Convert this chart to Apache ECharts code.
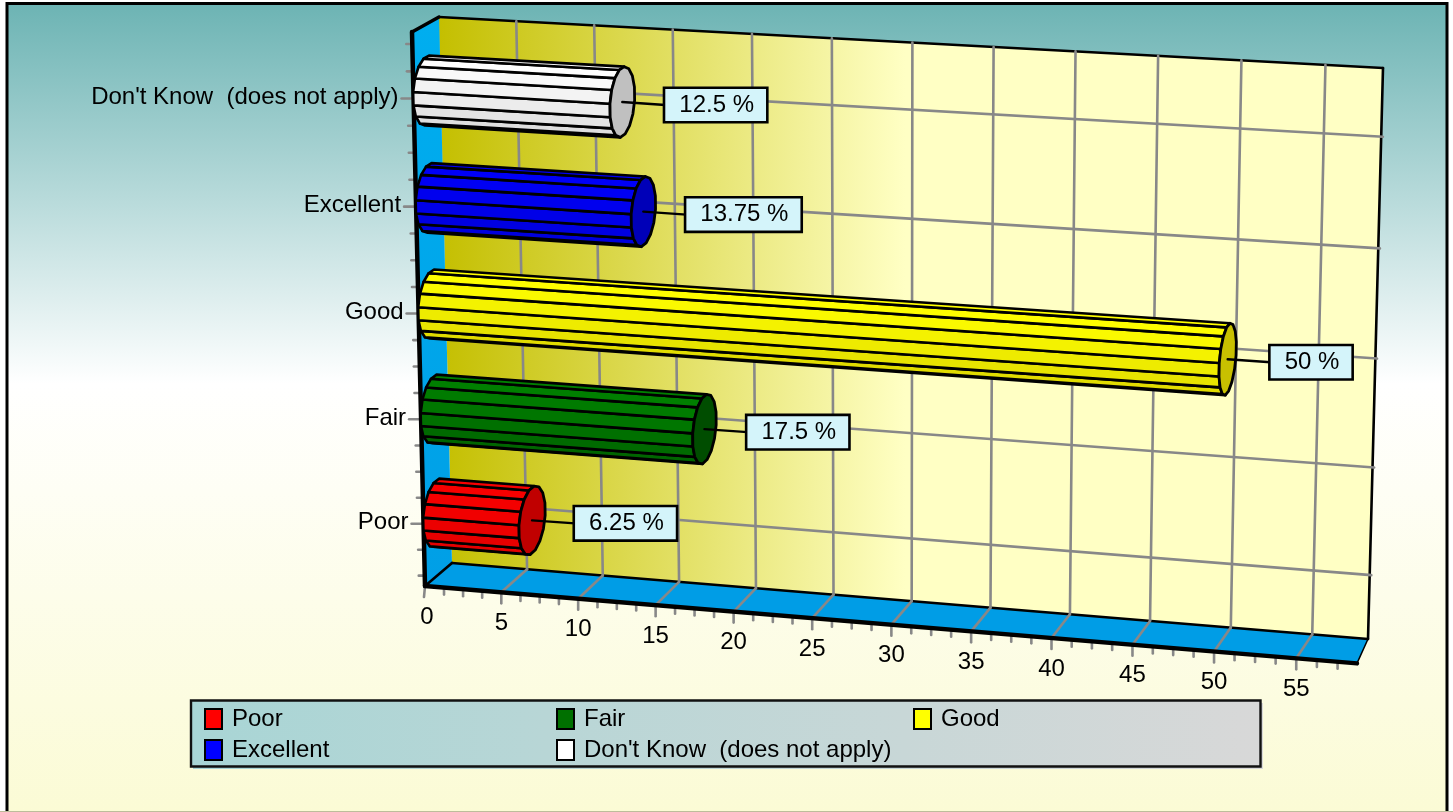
<!DOCTYPE html>
<html><head><meta charset="utf-8"><style>html,body{margin:0;padding:0;background:#fff}#c{width:1453px;height:812px}</style>
<script src="https://cdn.jsdelivr.net/npm/echarts@6/dist/echarts.min.js"></script></head>
<body><div id="c"></div>
<script>
const categories = ['Poor', 'Fair', 'Good', 'Excellent', "Don't Know  (does not apply)"];
const percentValues = [6.25, 17.5, 50, 13.75, 12.5];
const valueTicks = [0, 5, 10, 15, 20, 25, 30, 35, 40, 45, 50, 55];
const barColors = ['#F80000', '#008000', '#FFFF00', '#0000F8', '#FFFFFF'];
const barBottomColors = ['#E00000', '#006000', '#DCD600', '#0000D8', '#D8D8D8'];
const capColors = ['#C00000', '#004D00', '#C8C000', '#0000B8', '#C0C0C0'];
const legendColors = ['#FF0000', '#007000', '#FFFF00', '#0000FF', '#FFFFFF'];

const XMAX = 58.4, FRONT_END = 58.67, YMIN = 0.4, YMAX = 5.61;
const FONT = '"Liberation Sans", Arial, sans-serif';
const FS = 24;
const W = 1453, H = 812;
const backQuad = [[439, 17], [1383, 68], [1368, 639], [452, 563]];
const frontQuad = [[412, 32], [1367.5, 86], [1352.5, 663], [425, 586]];

function homography(p) {
  const [x0, y0] = p[0], [x1, y1] = p[1], [x2, y2] = p[2], [x3, y3] = p[3];
  const dx1 = x1 - x2, dx2 = x3 - x2, sx = x0 - x1 + x2 - x3;
  const dy1 = y1 - y2, dy2 = y3 - y2, sy = y0 - y1 + y2 - y3;
  const den = dx1 * dy2 - dx2 * dy1;
  const g = (sx * dy2 - dx2 * sy) / den, h = (dx1 * sy - sx * dy1) / den;
  const a = x1 - x0 + g * x1, b = x3 - x0 + h * x3, d = y1 - y0 + g * y1, e = y3 - y0 + h * y3;
  return (u, v) => { const q = g * u + h * v + 1; return [(a * u + b * v + x0) / q, (d * u + e * v + y0) / q]; };
}
const backH = homography(backQuad), frontH = homography(frontQuad);
// depth: 0 = front plane, 1 = back wall
function P(api, value, pos, depth) {
  const c = api.coord([value, pos]);
  const u = c[0] / W, v = c[1] / H;
  const f = frontH(u, v), b = backH(u, v);
  return [f[0] + (b[0] - f[0]) * depth, f[1] + (b[1] - f[1]) * depth];
}
const line = (a, b, stroke, lineWidth) => ({ type: 'line', shape: { x1: a[0], y1: a[1], x2: b[0], y2: b[1] }, style: { stroke, lineWidth, lineCap: 'round' } });
const poly = (points, fill, stroke, lineWidth) => ({ type: 'polygon', shape: { points }, style: { fill, stroke, lineWidth, lineJoin: 'round' } });
const label = (text, x, y, align) => ({ type: 'text', style: { text, x, y, align, verticalAlign: 'middle', fontSize: FS, fontFamily: FONT, fill: '#000' } });

function renderFrame(params, api) {
  const ch = [];
  const GRID = '#888888', GW = 2.6;
  const wb = [P(api, 0, YMAX, 1), P(api, XMAX, YMAX, 1), P(api, XMAX, YMIN, 1), P(api, 0, YMIN, 1)];
  const wf = [P(api, 0, YMAX, 0), P(api, XMAX, YMAX, 0), P(api, FRONT_END, YMIN, 0), P(api, 0, YMIN, 0)];
  const wallFill = new echarts.graphic.LinearGradient(wb[0][0], 0, 905, 0, [
    { offset: 0, color: '#C4BF00' }, { offset: 1, color: '#FFFFC4' }], true);
  ch.push(poly(wb, wallFill, null, 0));
  const sideFill = new echarts.graphic.LinearGradient(0, wb[0][1], 0, wf[3][1], [{ offset: 0, color: '#00AEEF' }, { offset: 1, color: '#009FE6' }], true);
  ch.push(poly([wf[0], wb[0], wb[3], wf[3]], sideFill, null, 0));
  ch.push(poly([wf[3], wb[3], wb[2], wf[2]], '#009DE6', null, 0));
  // frame edges of the wall, under the grid
  ch.push(line(wb[0], wb[1], '#000', 2.6));
  ch.push(line(wb[1], wb[2], '#000', 2.6));
  ch.push(line(wb[3], wb[2], '#000', 2.6));
  ch.push(line(wf[3], wb[3], '#000', 2.6));
  ch.push(line(wb[2], wf[2], '#000', 1.5));
  // horizontal grid on the wall
  categories.forEach((c, i) => ch.push(line(P(api, 0, i + 1, 1), P(api, XMAX + 0.1, i + 1, 1), GRID, GW)));
  // value grid, minor and major ticks
  valueTicks.forEach(t => {
    const top = P(api, t, YMAX, 1), bot = P(api, t, YMIN, 1), fr = P(api, t, YMIN, 0);
    if (t > 0) { ch.push(line(top, bot, GRID, GW)); ch.push(line(bot, fr, GRID, GW)); }
    ch.push(line(fr, [fr[0] - (t === 0 ? 1 : 0), fr[1] + 11], GRID, GW));
    ch.push(label(String(t), fr[0] + (t === 0 ? 2 : 0), fr[1] + 31, 'center'));
  });
  for (let t = 0; t < FRONT_END; t += 1.25) {
    if (t % 5 === 0) continue;
    const fr = P(api, t, YMIN, 0);
    ch.push(line(fr, [fr[0], fr[1] + 7], GRID, GW));
  }
  for (let p = 0.5; p <= 5.5; p += 0.25) {
    const a = P(api, 0, p, 0);
    const major = p % 1 === 0;
    ch.push(line([a[0] - (major ? 12 : 6), a[1]], a, GRID, GW));
  }
  categories.forEach((c, i) => {
    const a = P(api, 0, i + 1, 0);
    ch.push(label(c, a[0] - 15, a[1] - 1, 'right'));
  });
  ch.push(line(wf[0], wb[0], '#000', 3.5));
  ch.push(line(wf[0], wf[3], '#000', 4.5));
  ch.push(line(wf[3], wf[2], '#000', 4.5));
  return { type: 'group', children: ch };
}

const hexMix = (a, b, t) => {
  const p = s => [1, 3, 5].map(i => parseInt(s.substr(i, 2), 16));
  const A = p(a), B = p(b);
  return 'rgb(' + A.map((x, i) => Math.round(x + (B[i] - x) * t)).join(',') + ')';
};
const RV = 0.315, RW = 0.52, SIDES = 16, W0 = 0.5;
function renderBar(idx) {
  return function (params, api) {
    const val = api.value(0), pos = api.value(1);
    const ring = x => { const r = []; for (let i = 0; i < SIDES; i++) { const a = (i + 0.5) * 2 * Math.PI / SIDES - Math.PI; r.push([P(api, x, pos + RV * Math.cos(a), W0 + RW * Math.sin(a)), a]); } return r; };
    const r0 = ring(0), r1 = ring(val), ch = [];
    for (let i = 0; i < SIDES; i++) {
      const j = (i + 1) % SIDES;
      const q = [r0[i][0], r1[i][0], r1[j][0], r0[j][0]];
      let area = 0;
      q.forEach((pt, k) => { const n = q[(k + 1) % 4]; area += pt[0] * n[1] - n[0] * pt[1]; });
      if (area >= 0) continue;
      const mid = r0[i][1] + Math.PI / SIDES;
      ch.push(poly(q, hexMix(barColors[idx], barBottomColors[idx], (1 - Math.cos(mid)) / 2), '#000', 2.6));
    }
    ch.push(poly(r1.map(e => e[0]), capColors[idx], '#000', 2.8));
    const c = P(api, val, pos, W0);
    const bx = c[0] + 43, by = c[1] + 3;
    ch.push(line(c, [bx, by], '#000', 2.4));
    ch.push({ type: 'text', style: { text: val + ' %', x: bx, y: by, align: 'left', verticalAlign: 'middle', fontSize: FS, fontFamily: FONT, fill: '#000', backgroundColor: '#D4F4FA', borderColor: '#000', borderWidth: 2.6, padding: [4, 12, 4, 14] } });
    return { type: 'group', children: ch };
  };
}

const legendSpots = [[204, 707], [556, 707], [913, 707], [204, 738], [556, 738]];
const legendBoxFill = () => new echarts.graphic.LinearGradient(190, 0, 1261, 0, [{ offset: 0, color: '#A8D5D5' }, { offset: 1, color: '#D8D8D8' }], true);

const chart = echarts.init(document.getElementById('c'));
chart.setOption({
  animation: false,
  grid: { left: 0, right: 0, top: 0, bottom: 0 },
  xAxis: { type: 'value', min: 0, max: XMAX, show: false },
  yAxis: { type: 'value', min: YMIN, max: YMAX, show: false },
  graphic: [
    { type: 'rect', z: 0, shape: { x: 7, y: 3.5, width: 1440, height: 815 },
      style: { fill: new echarts.graphic.LinearGradient(0, 5, 0, 811, [
        { offset: 0, color: '#6DB4B4' }, { offset: 0.47, color: '#FFFFFF' }, { offset: 1, color: '#FBFBD5' }], true), stroke: '#000', lineWidth: 3 } },
    { type: 'rect', z: 0, shape: { x: 0, y: 811, width: 1453, height: 1 }, style: { fill: '#BDBD9B' } },
    { type: 'rect', z: 0, shape: { x: 193, y: 703, width: 1070, height: 66 }, style: { fill: legendBoxFill() } },
    { type: 'rect', z: 0, shape: { x: 191, y: 700.5, width: 1069.5, height: 66 }, style: { fill: legendBoxFill(), stroke: '#111', lineWidth: 2.4 } }
  ],
  legend: categories.map((c, i) => ({
    data: [c], left: legendSpots[i][0], top: legendSpots[i][1], padding: 0, orient: 'horizontal',
    icon: 'rect', itemWidth: 17, itemHeight: 20, selectedMode: false,
    itemStyle: { borderColor: '#000', borderWidth: 2, color: legendColors[i] },
    textStyle: { fontSize: FS, fontFamily: FONT, color: '#000', padding: [0, 0, 3, 5] }
  })),
  series: [
    { type: 'custom', name: 'frame', coordinateSystem: 'cartesian2d', silent: true, clip: false, z: 1, data: [[0, 0]], renderItem: renderFrame }
  ].concat(categories.map((c, i) => ({
    type: 'custom', name: c, coordinateSystem: 'cartesian2d', silent: true, clip: false, z: 2,
    itemStyle: { color: legendColors[i] },
    data: [[percentValues[i], i + 1]], renderItem: renderBar(i)
  })))
});
</script></body></html>
